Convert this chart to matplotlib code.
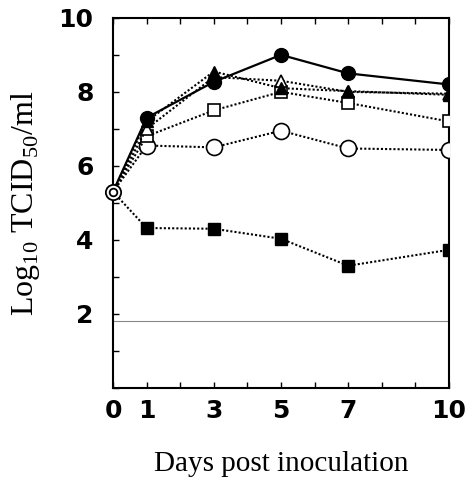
import matplotlib.pyplot as plt

# data
days = [0, 1, 3, 5, 7, 10]
start = 5.3
filled_circle = [start, 7.3, 8.27, 9.0, 8.5, 8.2]
filled_triangle = [start, 7.2, 8.55, 8.1, 8.02, 7.92]
open_triangle = [start, 7.0, 8.4, 8.3, 8.0, 7.95]
open_square = [start, 6.8, 7.5, 8.0, 7.7, 7.2]
open_circle = [start, 6.55, 6.5, 6.95, 6.47, 6.43]
filled_square = [start, 4.32, 4.3, 4.03, 3.3, 3.73]
detect_limit = 1.8

xtick_labels = ['0', '1', '3', '5', '7', '10']
ytick_vals = [2, 4, 6, 8, 10]

plt.rcParams['mathtext.fontset'] = 'custom'
plt.rcParams['mathtext.rm'] = 'Liberation Serif'

fig = plt.figure(figsize=(4.66, 4.83), dpi=100)
ax = fig.add_axes([0.2425, 0.197, 0.721, 0.766])

dot = (0, (1, 1))
ax.axhline(detect_limit, color='#888888', lw=0.8, zorder=1)

ax.plot(days, filled_square, linestyle=dot, color='black', lw=1.5,
        marker='s', ms=8, mfc='black', mec='black', markevery=list(range(1, 6)), zorder=3)
ax.plot(days, open_circle, linestyle=dot, color='black', lw=1.5,
        marker='o', ms=11.5, mfc='white', mec='black', mew=1.2, markevery=list(range(1, 6)), zorder=3)
ax.plot(days, open_square, linestyle=dot, color='black', lw=1.5,
        marker='s', ms=8, mfc='white', mec='black', mew=1.2, markevery=list(range(1, 6)), zorder=4)
ax.plot(days, open_triangle, linestyle=dot, color='black', lw=1.5,
        marker='^', ms=9, mfc='white', mec='black', mew=1.2, markevery=list(range(1, 6)), zorder=4)
ax.plot(days, filled_triangle, linestyle=dot, color='black', lw=1.5,
        marker='^', ms=9, mfc='black', mec='black', markevery=list(range(1, 6)), zorder=5)
ax.plot(days, filled_circle, linestyle='-', color='black', lw=1.6,
        marker='o', ms=10, mfc='black', mec='black', markevery=list(range(1, 6)), zorder=6)

# starting point (double circle)
ax.plot([0], [start], marker='o', ms=11, mfc='white', mec='black', mew=1.3, zorder=7, clip_on=False)
ax.plot([0], [start], marker='o', ms=5.5, mfc='white', mec='black', mew=1.3, zorder=8, clip_on=False)

ax.set_xlim(0, 10)
ax.set_ylim(0, 10)
ax.set_xticks(range(0, 11))
ax.set_xticklabels([str(d) if str(d) in xtick_labels else '' for d in range(0, 11)])
ax.set_yticks(range(0, 11))
ax.set_yticklabels([str(v) if v in ytick_vals else '' for v in range(0, 11)])
ax.tick_params(direction='in', length=4, width=1, top=True, right=False)
ax.tick_params(axis='x', pad=8)
ax.tick_params(axis='y', pad=14)
for lab in ax.get_xticklabels() + ax.get_yticklabels():
    lab.set_fontfamily('DejaVu Sans')
    lab.set_fontweight('bold')
    lab.set_fontsize(18)
for sp in ax.spines.values():
    sp.set_linewidth(1.5)

ax.set_xlabel('Days post inoculation', fontfamily='Liberation Serif', fontsize=21, labelpad=20)
ax.set_ylabel(r'Log$_{10}$ TCID$_{50}$/ml', fontfamily='Liberation Serif', fontsize=23, labelpad=12)

fig.savefig('out.png', dpi=100)
